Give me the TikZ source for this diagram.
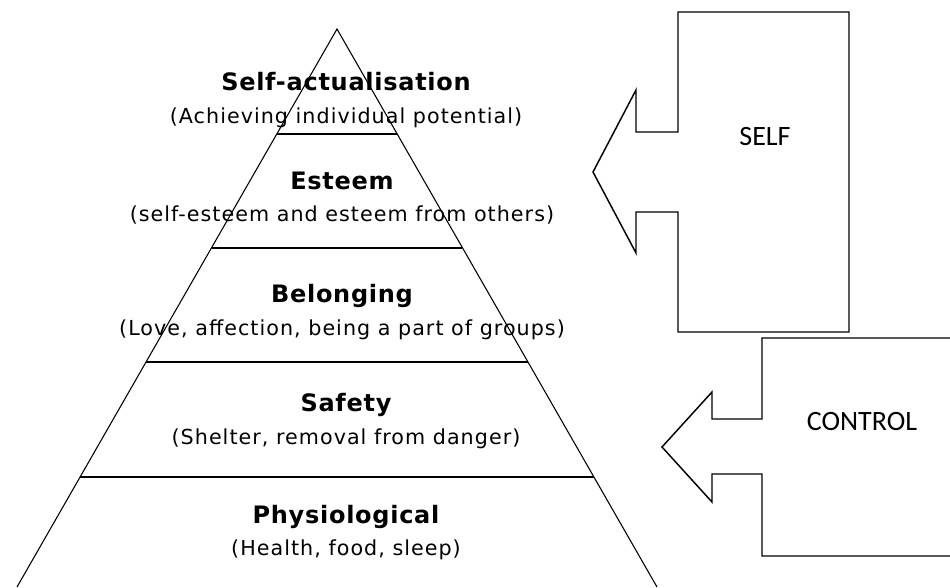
\documentclass[tikz,border=0pt]{standalone}
\usepackage{fontspec}
\setmainfont{DejaVu Sans}
\newfontfamily\titlefont[LetterSpace=3]{DejaVu Sans}
\newfontfamily\needfont[LetterSpace=5]{DejaVu Sans}
\newfontfamily\calibri{Carlito}
\tikzset{
  level/.style={font=\titlefont\fontsize{18}{20}\selectfont\bfseries, inner sep=0pt, anchor=base},
  need/.style={font=\needfont\fontsize{15.5}{18}\selectfont, inner sep=0pt, anchor=base},
  tag/.style={font=\calibri\fontsize{21}{24}\selectfont, inner sep=0pt},
  outline/.style={line width=1.1pt, line join=miter},
}
\begin{document}
\begin{tikzpicture}[x=0.75pt, y=-0.75pt]
    \useasboundingbox (0,0) rectangle (950,587);
    \node[level] (selfact) at (346,90) {Self-actualisation};
    \node[need] (selfactsub) at (346,123) {(Achieving individual potential)};
    \node[level] (esteem) at (342,189) {Esteem};
    \node[need] (esteemsub) at (342,221) {(self-esteem and esteem from others)};
    \node[level] (belong) at (342,302) {Belonging};
    \node[need] (belongsub) at (342,335) {(Love, affection, being a part of groups)};
    \node[level] (safety) at (346,411) {Safety};
    \node[need] (safetysub) at (346,444) {(Shelter, removal from danger)};
    \node[level] (physio) at (346,523) {Physiological};
    \node[need] (physiosub) at (346,555) {(Health, food, sleep)};
    \draw[line width=0.8pt] (17,587)--(337,29)--(657,587);
    \draw[line width=1pt] (277,134)--(397,134);
    \draw[line width=1pt] (212,248)--(462,248);
    \draw[line width=1pt] (146,362)--(528,362);
    \draw[line width=1pt] (80,477)--(594,477);
    \draw[outline] (678,12)--(849,12)--(849,332)--(678,332)--(678,212)--(636,212)
        --(636,253)--(593,172)--(636,90)--(636,132)--(678,132)--cycle;
    \node[tag] (self) at (765,137) {SELF};
    \draw[outline] (951,338)--(762,338)--(762,419)--(712,419)--(712,392)--(662,447)
        --(712,502)--(712,474)--(762,474)--(762,556)--(951,556);
    \node[tag] (control) at (862,422) {CONTROL};
\end{tikzpicture}
\end{document}
